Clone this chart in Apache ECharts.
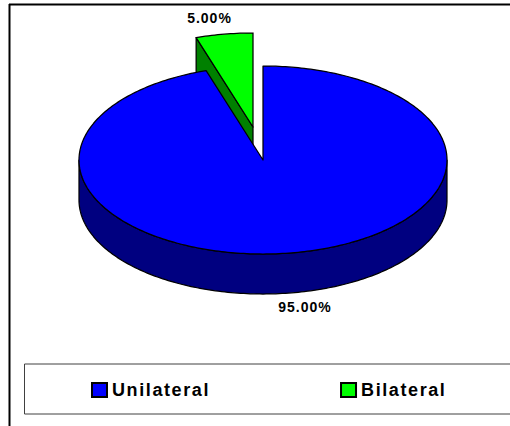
<!DOCTYPE html>
<html>
<head>
<meta charset="utf-8">
<title>Pie</title>
<style>
html, body { margin: 0; padding: 0; background: #fff; }
#main { width: 510px; height: 426px; }
/* the original uses widely tracked Arial-like text */
#main text { letter-spacing: 1px; }
#main text[style*="18px"] { letter-spacing: 1.6px; }
</style>
<script src="https://cdn.jsdelivr.net/npm/echarts@6/dist/echarts.min.js"></script>
</head>
<body>
<div id="main"></div>
<script>
var categories = ["Unilateral", "Bilateral"];
var values = [95, 5];
var valueLabels = ["95.00%", "5.00%"];

var topColors = ["#0000ff", "#00ff00"];
var sideColors = ["#000080", "#008000"];

// pie geometry, squashed ellipse with a fixed depth
var cx = 263, cy = 160, rx = 184, ry = 94, depth = 40;
var explode = [[0, 0], [-10, -33]];
var labelPos = [[305, 307], [209.5, 18]];
var total = values[0] + values[1];

function rim(deg, dx, dy) {
    var a = deg * Math.PI / 180;
    return [cx + dx + rx * Math.sin(a), cy + dy - ry * Math.cos(a)];
}

function arc(from, to, dx, dy) {
    var pts = [];
    for (var d = from; d < to; d += 1) {
        pts.push(rim(d, dx, dy));
    }
    pts.push(rim(to, dx, dy));
    return pts;
}

function slice(stroke, fill, points) {
    return {
        type: "polygon",
        silent: true,
        shape: { points: points },
        style: { fill: fill, stroke: stroke, lineWidth: 1.25, lineJoin: "round" }
    };
}

function renderSlice(idx) {
    var start = 0;
    for (var i = 0; i < idx; i++) {
        start += values[i] / total * 360;
    }
    var end = start + values[idx] / total * 360;
    var dx = explode[idx][0], dy = explode[idx][1];
    var apex = [cx + dx, cy + dy];
    var kids = [];

    // outer wall, only the front half of the rim shows
    var wallFrom = Math.max(start, 90), wallTo = Math.min(end, 270);
    if (wallFrom < wallTo) {
        var upper = arc(wallFrom, wallTo, dx, dy);
        var lower = arc(wallFrom, wallTo, dx, dy + depth).reverse();
        kids.push(slice("#000", sideColors[idx], upper.concat(lower)));
    }
    // cut face of the exploded slice
    if (dx !== 0 || dy !== 0) {
        var edge = rim(start, dx, dy);
        kids.push(slice("#000", sideColors[idx], [
            apex, edge, [edge[0], edge[1] + depth], [apex[0], apex[1] + depth]
        ]));
    }
    kids.push(slice("#000", topColors[idx], [apex].concat(arc(start, end, dx, dy))));
    kids.push({
        type: "text",
        silent: true,
        style: {
            x: labelPos[idx][0],
            y: labelPos[idx][1],
            text: valueLabels[idx],
            fill: "#000",
            font: "bold 14px 'Liberation Sans'",
            textAlign: "center",
            textVerticalAlign: "middle"
        }
    });
    return { type: "group", children: kids };
}

var series = categories.map(function (name, idx) {
    return {
        name: name,
        type: "custom",
        coordinateSystem: "none",
        // bilateral goes underneath so the blue slice hides its cut face
        z: 2 - idx,
        itemStyle: { color: topColors[idx], borderColor: "#000", borderWidth: 1 },
        data: [values[idx]],
        renderItem: function () {
            return renderSlice(idx);
        }
    };
});

var option = {
    animation: false,
    backgroundColor: "#fff",
    legend: {
        data: categories,
        left: 91,
        top: 381,
        padding: 0,
        itemWidth: 15,
        itemHeight: 14,
        itemGap: 146,
        icon: "rect",
        selectedMode: false,
        textStyle: {
            color: "#000",
            fontFamily: "Liberation Sans",
            fontWeight: "bold",
            fontSize: 18,
            padding: [0, 0, 2, 0]
        }
    },
    graphic: [
        { type: "line", silent: true, shape: { x1: 9, y1: 4.5, x2: 510, y2: 4.5 }, style: { stroke: "#000", lineWidth: 2 } },
        { type: "line", silent: true, shape: { x1: 9.5, y1: 4, x2: 9.5, y2: 426 }, style: { stroke: "#000", lineWidth: 2 } },
        { type: "rect", silent: true, shape: { x: 24.5, y: 364, width: 500, height: 50 }, style: { fill: "none", stroke: "#404040", lineWidth: 1 } }
    ],
    series: series
};

var chart = echarts.init(document.getElementById("main"), null, { renderer: "svg" });
chart.setOption(option);
</script>
</body>
</html>
